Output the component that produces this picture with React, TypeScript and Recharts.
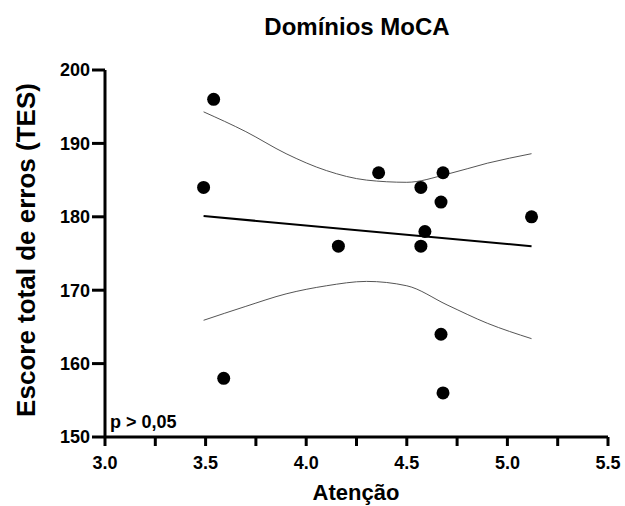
import { ComposedChart, Scatter, Line, XAxis, YAxis } from "recharts";

// MoCA attention score vs TES
const attention = [3.49, 3.54, 3.59, 4.16, 4.36, 4.57, 4.57, 4.59, 4.68, 4.67, 4.67, 4.68, 5.12];
const tesScore = [184, 196, 158, 176, 186, 184, 176, 178, 186, 182, 164, 156, 180];

// fitted line ends
const fitX = [3.49, 5.12];
const fitY = [180.1, 176.0];

// confidence band curves
const bandX = [3.49, 3.7, 3.9, 4.1, 4.3, 4.5, 4.7, 4.9, 5.12];
const upperBand = [194.3, 191.6, 188.6, 186.3, 185.0, 184.7, 185.8, 187.3, 188.6];
const lowerBand = [165.9, 167.8, 169.5, 170.6, 171.2, 170.6, 168.0, 165.5, 163.4];

const xTicks = [3, 3.25, 3.5, 3.75, 4, 4.25, 4.5, 4.75, 5, 5.25, 5.5];
const yTicks = [150, 160, 170, 180, 190, 200];

const font = "Arial, 'Liberation Sans', sans-serif";

const points = attention.map((x, i) => ({ x, y: tesScore[i] }));
const fitData = fitX.map((x, i) => ({ x, y: fitY[i] }));
const upperData = bandX.map((x, i) => ({ x, y: upperBand[i] }));
const lowerData = bandX.map((x, i) => ({ x, y: lowerBand[i] }));

// only half-unit ticks get a label
const xLabel = (v: number) => (Math.abs(v * 2 - Math.round(v * 2)) < 1e-6 ? v.toFixed(1) : "");

const tickText = { fontSize: 18, fontWeight: "bold", fill: "#000", fontFamily: font };

const Dot = (p: any) => <circle cx={p.cx} cy={p.cy} r={6.5} fill="#000" />;

export default function App() {
  return (
    <div style={{ position: "absolute", left: 0, top: 0, width: 625, height: 506, background: "#fff" }}>
      <ComposedChart width={625} height={506} margin={{ top: 70, right: 17, bottom: 29, left: 35 }}>
        <XAxis
          type="number"
          dataKey="x"
          domain={[3, 5.5]}
          ticks={xTicks}
          interval={0}
          tickFormatter={xLabel}
          height={40}
          tickSize={9}
          tickMargin={10}
          tick={tickText}
          stroke="#000"
          strokeWidth={3}
          axisLine={{ stroke: "#000", strokeWidth: 3 }}
          tickLine={{ stroke: "#000", strokeWidth: 3 }}
        />
        <YAxis
          type="number"
          dataKey="y"
          domain={[150, 200]}
          ticks={yTicks}
          interval={0}
          width={70}
          tickSize={13}
          tickMargin={2}
          tick={tickText}
          stroke="#000"
          strokeWidth={3}
          axisLine={{ stroke: "#000", strokeWidth: 3 }}
          tickLine={{ stroke: "#000", strokeWidth: 3 }}
        />
        <Line data={upperData} dataKey="y" type="monotone" stroke="#555" strokeWidth={1} dot={false} isAnimationActive={false} />
        <Line data={lowerData} dataKey="y" type="monotone" stroke="#555" strokeWidth={1} dot={false} isAnimationActive={false} />
        <Line data={fitData} dataKey="y" type="linear" stroke="#000" strokeWidth={2} dot={false} isAnimationActive={false} />
        <Scatter data={points} dataKey="y" shape={Dot} isAnimationActive={false} />
      </ComposedChart>
      <svg width={625} height={506} style={{ position: "absolute", left: 0, top: 0, pointerEvents: "none" }}>
        <text x={357} y={35} textAnchor="middle" fontFamily={font} fontWeight="bold" fontSize={24} fill="#000">
          Domínios MoCA
        </text>
        <text
          x={0}
          y={0}
          transform="translate(35,250) rotate(-90)"
          textAnchor="middle"
          fontFamily={font}
          fontWeight="bold"
          fontSize={26}
          fill="#000"
        >
          Escore total de erros (TES)
        </text>
        <text x={356} y={500} textAnchor="middle" fontFamily={font} fontWeight="bold" fontSize={22} fill="#000">
          Atenção
        </text>
        <text x={110} y={428} fontFamily={font} fontWeight="bold" fontSize={18} fill="#000">
          p &gt; 0,05
        </text>
      </svg>
    </div>
  );
}
